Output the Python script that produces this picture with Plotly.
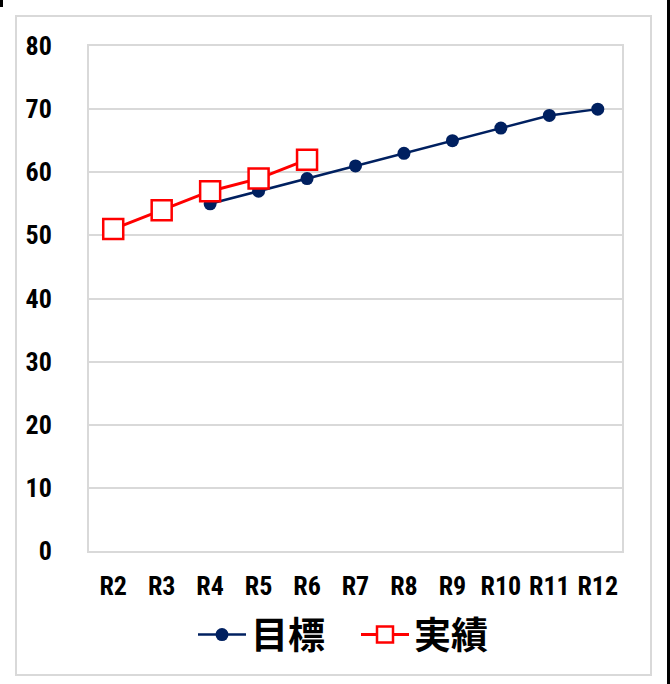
import plotly.graph_objects as go

# Fiscal years (Reiwa era) and the two series
years = ["R2", "R3", "R4", "R5", "R6", "R7", "R8", "R9", "R10", "R11", "R12"]
target = [None, None, 55, 57, 59, 61, 63, 65, 67, 69, 70]   # 目標
actual = [51, 54, 57, 59, 62, None, None, None, None, None, None]  # 実績
y_ticks = [0, 10, 20, 30, 40, 50, 60, 70, 80]

NAVY = "#002060"
RED = "#FF0000"
GRID = "#d9d9d9"
TICK_FONT = dict(family="Roboto Condensed, DejaVu Sans Condensed",
                 size=26, color="#000000", weight="bold")

fig = go.Figure()

fig.add_trace(go.Scatter(
    x=years, y=target, name="目標", mode="lines+markers",
    line=dict(color=NAVY, width=2.5),
    marker=dict(symbol="circle", size=13, color=NAVY),
))
fig.add_trace(go.Scatter(
    x=years, y=actual, name="実績", mode="lines+markers",
    line=dict(color=RED, width=3),
    marker=dict(symbol="square", size=20, color="#ffffff",
                line=dict(color=RED, width=2.5)),
))

W, H = 670, 684
L, R, T, B = 89, 48, 46, 133
pw, ph = W - L - R, H - T - B


def px_x(v):
    return (v - L) / pw


def px_y(v):
    return (H - B - v) / ph


shapes = [
    # outer chart frame
    dict(type="rect", xref="paper", yref="paper",
         x0=px_x(16), x1=px_x(651), y0=px_y(675), y1=px_y(16),
         line=dict(color=GRID, width=2), fillcolor="rgba(0,0,0,0)", layer="below"),
    # dark edge strips
    dict(type="rect", xref="paper", yref="paper",
         x0=px_x(667), x1=px_x(670), y0=px_y(684), y1=px_y(0),
         line=dict(width=0), fillcolor="#000000"),
    dict(type="rect", xref="paper", yref="paper",
         x0=px_x(0), x1=px_x(3), y0=px_y(7), y1=px_y(0),
         line=dict(width=0), fillcolor="#000000"),
]

fig.update_layout(
    width=W, height=H,
    margin=dict(l=L, r=R, t=T, b=B),
    paper_bgcolor="#ffffff", plot_bgcolor="#ffffff",
    showlegend=True,
    legend=dict(
        orientation="h", x=px_x(356), xanchor="center",
        y=px_y(635), yanchor="middle",
        font=dict(family="Noto Sans CJK JP, sans-serif", size=37,
                  color="#000000", weight="bold"),
        itemwidth=48, entrywidth=100, traceorder="normal",
        bgcolor="rgba(0,0,0,0)",
    ),
    shapes=shapes,
    xaxis=dict(
        type="category", categoryorder="array", categoryarray=years,
        range=[-0.5, len(years) - 0.5],
        showgrid=False, zeroline=False,
        showline=True, linecolor=GRID, linewidth=2, mirror=True,
        ticks="outside", ticklen=11, tickcolor="rgba(0,0,0,0)",
        tickangle=0, tickfont=TICK_FONT,
    ),
    yaxis=dict(
        range=[0, 80], tickvals=y_ticks,
        showgrid=True, gridcolor=GRID, gridwidth=2, zeroline=False,
        showline=True, linecolor=GRID, linewidth=2, mirror=True,
        ticks="outside", ticklen=30, tickcolor="rgba(0,0,0,0)",
        tickfont=TICK_FONT,
    ),
)

fig.write_html("out.html")
